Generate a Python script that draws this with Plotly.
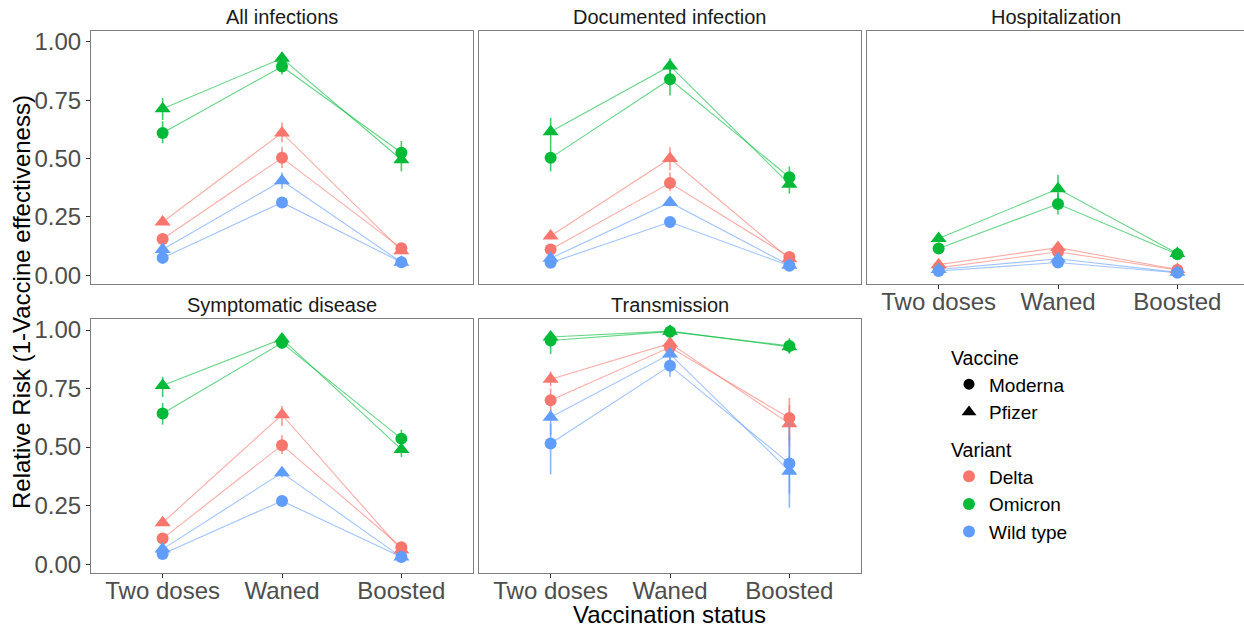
import plotly.graph_objects as go

# ---------------- data ----------------
statuses = ["Two doses", "Waned", "Boosted"]
outcomes = ["All infections", "Documented infection", "Hospitalization",
            "Symptomatic disease", "Transmission"]
variants = ["Delta", "Omicron", "Wild type"]
vaccines = ["Moderna", "Pfizer"]
y_ticks = [0.0, 0.25, 0.5, 0.75, 1.0]
y_tick_labels = ["0.00", "0.25", "0.50", "0.75", "1.00"]

# Relative risk estimates per (variant, vaccine): [Two doses, Waned, Boosted]
est_all = {("Delta", "Moderna"): [0.155, 0.503, 0.115], ("Delta", "Pfizer"): [0.228, 0.610, 0.105],
           ("Omicron", "Moderna"): [0.610, 0.895, 0.525], ("Omicron", "Pfizer"): [0.714, 0.930, 0.495],
           ("Wild type", "Moderna"): [0.074, 0.312, 0.055], ("Wild type", "Pfizer"): [0.110, 0.405, 0.055]}
lo_all = {("Delta", "Moderna"): [0.140, 0.460, 0.100], ("Delta", "Pfizer"): [0.215, 0.570, 0.095],
          ("Omicron", "Moderna"): [0.565, 0.860, 0.480], ("Omicron", "Pfizer"): [0.665, 0.910, 0.445],
          ("Wild type", "Moderna"): [0.065, 0.295, 0.050], ("Wild type", "Pfizer"): [0.095, 0.370, 0.050]}
hi_all = {("Delta", "Moderna"): [0.170, 0.550, 0.130], ("Delta", "Pfizer"): [0.240, 0.655, 0.115],
          ("Omicron", "Moderna"): [0.660, 0.930, 0.575], ("Omicron", "Pfizer"): [0.760, 0.955, 0.540],
          ("Wild type", "Moderna"): [0.085, 0.330, 0.060], ("Wild type", "Pfizer"): [0.125, 0.440, 0.062]}

est_doc = {("Delta", "Moderna"): [0.110, 0.395, 0.078], ("Delta", "Pfizer"): [0.168, 0.500, 0.070],
           ("Omicron", "Moderna"): [0.503, 0.840, 0.420], ("Omicron", "Pfizer"): [0.615, 0.897, 0.390],
           ("Wild type", "Moderna"): [0.053, 0.228, 0.040], ("Wild type", "Pfizer"): [0.072, 0.312, 0.042]}
lo_doc = {("Delta", "Moderna"): [0.100, 0.360, 0.070], ("Delta", "Pfizer"): [0.155, 0.450, 0.062],
          ("Omicron", "Moderna"): [0.445, 0.770, 0.380], ("Omicron", "Pfizer"): [0.560, 0.860, 0.350],
          ("Wild type", "Moderna"): [0.048, 0.215, 0.035], ("Wild type", "Pfizer"): [0.065, 0.295, 0.037]}
hi_doc = {("Delta", "Moderna"): [0.120, 0.440, 0.088], ("Delta", "Pfizer"): [0.180, 0.548, 0.080],
          ("Omicron", "Moderna"): [0.560, 0.890, 0.466], ("Omicron", "Pfizer"): [0.675, 0.930, 0.430],
          ("Wild type", "Moderna"): [0.060, 0.240, 0.045], ("Wild type", "Pfizer"): [0.080, 0.330, 0.047]}

est_hosp = {("Delta", "Moderna"): [0.031, 0.100, 0.022], ("Delta", "Pfizer"): [0.045, 0.118, 0.024],
            ("Omicron", "Moderna"): [0.114, 0.305, 0.090], ("Omicron", "Pfizer"): [0.157, 0.370, 0.093],
            ("Wild type", "Moderna"): [0.018, 0.054, 0.010], ("Wild type", "Pfizer"): [0.024, 0.070, 0.012]}
lo_hosp = {("Delta", "Moderna"): [0.025, 0.085, 0.018], ("Delta", "Pfizer"): [0.038, 0.100, 0.020],
           ("Omicron", "Moderna"): [0.100, 0.260, 0.080], ("Omicron", "Pfizer"): [0.140, 0.320, 0.083],
           ("Wild type", "Moderna"): [0.015, 0.047, 0.008], ("Wild type", "Pfizer"): [0.020, 0.062, 0.010]}
hi_hosp = {("Delta", "Moderna"): [0.037, 0.115, 0.026], ("Delta", "Pfizer"): [0.052, 0.135, 0.030],
           ("Omicron", "Moderna"): [0.130, 0.350, 0.100], ("Omicron", "Pfizer"): [0.175, 0.430, 0.103],
           ("Wild type", "Moderna"): [0.022, 0.062, 0.012], ("Wild type", "Pfizer"): [0.028, 0.078, 0.015]}

est_symp = {("Delta", "Moderna"): [0.109, 0.508, 0.072], ("Delta", "Pfizer"): [0.177, 0.638, 0.060],
            ("Omicron", "Moderna"): [0.643, 0.945, 0.536], ("Omicron", "Pfizer"): [0.763, 0.962, 0.490],
            ("Wild type", "Moderna"): [0.043, 0.270, 0.030], ("Wild type", "Pfizer"): [0.064, 0.390, 0.030]}
lo_symp = {("Delta", "Moderna"): [0.100, 0.470, 0.062], ("Delta", "Pfizer"): [0.165, 0.590, 0.052],
           ("Omicron", "Moderna"): [0.596, 0.930, 0.500], ("Omicron", "Pfizer"): [0.714, 0.950, 0.458],
           ("Wild type", "Moderna"): [0.038, 0.255, 0.026], ("Wild type", "Pfizer"): [0.055, 0.370, 0.026]}
hi_symp = {("Delta", "Moderna"): [0.120, 0.550, 0.082], ("Delta", "Pfizer"): [0.190, 0.675, 0.068],
           ("Omicron", "Moderna"): [0.688, 0.960, 0.574], ("Omicron", "Pfizer"): [0.800, 0.975, 0.525],
           ("Wild type", "Moderna"): [0.050, 0.285, 0.034], ("Wild type", "Pfizer"): [0.072, 0.410, 0.034]}

est_trans = {("Delta", "Moderna"): [0.700, 0.926, 0.624], ("Delta", "Pfizer"): [0.790, 0.943, 0.600],
             ("Omicron", "Moderna"): [0.955, 0.993, 0.932], ("Omicron", "Pfizer"): [0.970, 0.995, 0.928],
             ("Wild type", "Moderna"): [0.515, 0.847, 0.430], ("Wild type", "Pfizer"): [0.627, 0.897, 0.397]}
lo_trans = {("Delta", "Moderna"): [0.650, 0.900, 0.530], ("Delta", "Pfizer"): [0.760, 0.920, 0.500],
            ("Omicron", "Moderna"): [0.898, 0.985, 0.900], ("Omicron", "Pfizer"): [0.940, 0.988, 0.900],
            ("Wild type", "Moderna"): [0.383, 0.800, 0.300], ("Wild type", "Pfizer"): [0.550, 0.870, 0.241]}
hi_trans = {("Delta", "Moderna"): [0.750, 0.950, 0.710], ("Delta", "Pfizer"): [0.823, 0.960, 0.680],
            ("Omicron", "Moderna"): [0.985, 0.998, 0.960], ("Omicron", "Pfizer"): [0.990, 0.998, 0.965],
            ("Wild type", "Moderna"): [0.600, 0.890, 0.550], ("Wild type", "Pfizer"): [0.660, 0.920, 0.603]}

# ---------------- style ----------------
W, H = 1244, 628
FONT = "Liberation Sans, Arial, sans-serif"
variant_colors = {"Delta": (248, 118, 109), "Omicron": (0, 186, 56), "Wild type": (97, 156, 255)}
vaccine_symbols = {"Moderna": "circle", "Pfizer": "triangle-up"}
vaccine_sizes = {"Moderna": 12, "Pfizer": 14}


def rgba(rgb, a):
    return "rgba(%d,%d,%d,%.2f)" % (rgb[0], rgb[1], rgb[2], a)


def px_x(p):
    return p / W


def px_y(p):
    return 1 - p / H


# panel boxes in pixels (left, right, top, bottom)
panel_boxes = [(91, 473, 31, 284), (479, 861, 31, 284), (867, 1244, 31, 284),
               (91, 473, 319, 573), (479, 861, 319, 573)]
panel_data = [(est_all, lo_all, hi_all), (est_doc, lo_doc, hi_doc), (est_hosp, lo_hosp, hi_hosp),
              (est_symp, lo_symp, hi_symp), (est_trans, lo_trans, hi_trans)]
show_x_labels = [False, False, True, True, True]
show_y_labels = [True, False, False, True, False]
unit_px = 382 / 3.2

fig = go.Figure()
layout = dict(
    width=W, height=H, margin=dict(l=0, r=0, t=0, b=0, autoexpand=False),
    paper_bgcolor="white", plot_bgcolor="white",
    font=dict(family=FONT, color="#1A1A1A"),
    showlegend=True,
)
annotations = []

for i, (outcome, box, data) in enumerate(zip(outcomes, panel_boxes, panel_data)):
    est, lo, hi = data
    n = "" if i == 0 else str(i + 1)
    xa, ya = "x" + n, "y" + n
    L, R, T, B = box
    width_units = (R - L) / unit_px
    layout["xaxis" + n] = dict(
        domain=[px_x(L), px_x(R)], anchor=ya, type="category",
        categoryorder="array", categoryarray=statuses,
        range=[-0.6, -0.6 + width_units], automargin=False,
        showline=True, linecolor="#7F7F7F", linewidth=1, mirror=True,
        showgrid=False, zeroline=False,
        ticks="outside" if show_x_labels[i] else "", ticklen=4, tickcolor="#333333",
        showticklabels=show_x_labels[i], ticklabelstandoff=-8,
        tickfont=dict(family=FONT, size=24, color="#4D4D4D"),
    )
    layout["yaxis" + n] = dict(
        domain=[px_y(B), px_y(T)], anchor=xa,
        range=[-0.038, 1.047], automargin=False,
        showline=True, linecolor="#7F7F7F", linewidth=1, mirror=(i != 2),
        showgrid=False, zeroline=False,
        tickvals=y_ticks, ticktext=y_tick_labels,
        ticks="outside" if show_y_labels[i] else "", ticklen=4, tickcolor="#333333",
        showticklabels=show_y_labels[i],
        tickfont=dict(family=FONT, size=24, color="#4D4D4D"),
    )
    annotations.append(dict(
        text=outcome, x=px_x((L + min(R, L + 382)) / 2), y=px_y(T - 14),
        xref="paper", yref="paper", xanchor="center", yanchor="middle",
        showarrow=False, font=dict(family=FONT, size=20, color="#1A1A1A"),
    ))

    # lines first
    for variant in variants:
        for vaccine in vaccines:
            key = (variant, vaccine)
            fig.add_trace(go.Scatter(
                x=statuses, y=est[key], xaxis=xa, yaxis=ya, mode="lines",
                line=dict(color=rgba(variant_colors[variant], 0.6), width=1.1),
                showlegend=False, hoverinfo="skip",
            ))
    # then points with intervals
    for variant in variants:
        for vaccine in vaccines:
            key = (variant, vaccine)
            e, l, h = est[key], lo[key], hi[key]
            fig.add_trace(go.Scatter(
                x=statuses, y=e, xaxis=xa, yaxis=ya, mode="markers",
                marker=dict(symbol=vaccine_symbols[vaccine], size=vaccine_sizes[vaccine],
                            color=rgba(variant_colors[variant], 1.0), line=dict(width=0)),
                error_y=dict(type="data", symmetric=False,
                             array=[hh - ee for hh, ee in zip(h, e)],
                             arrayminus=[ee - ll for ee, ll in zip(e, l)],
                             color=rgba(variant_colors[variant], 0.75), thickness=1.6, width=0),
                name=variant + " " + vaccine, showlegend=False,
            ))

# legends
for vaccine in vaccines:
    fig.add_trace(go.Scatter(
        x=[None], y=[None], mode="markers", name=vaccine, legend="legend",
        marker=dict(symbol=vaccine_symbols[vaccine], size=vaccine_sizes[vaccine] - 1, color="black"),
    ))
for variant in variants:
    fig.add_trace(go.Scatter(
        x=[None], y=[None], mode="markers", name=variant, legend="legend2",
        marker=dict(symbol="circle", size=12, color=rgba(variant_colors[variant], 1.0)),
    ))

legend_common = dict(
    xanchor="left", yanchor="top", bgcolor="rgba(0,0,0,0)",
    font=dict(family=FONT, size=19, color="#000000"),
    itemwidth=30, tracegroupgap=0,
)
layout["legend"] = dict(legend_common, x=px_x(949), y=px_y(340),
                        title=dict(text="Vaccine", font=dict(family=FONT, size=19.5, color="#000000")))
layout["legend2"] = dict(legend_common, x=px_x(949), y=px_y(432),
                         title=dict(text="Variant", font=dict(family=FONT, size=19.5, color="#000000")))

# axis titles
annotations.append(dict(
    text="Vaccination status", x=px_x(670), y=px_y(614), xref="paper", yref="paper",
    xanchor="center", yanchor="middle", showarrow=False,
    font=dict(family=FONT, size=24, color="#000000"),
))
annotations.append(dict(
    text="Relative Risk (1-Vaccine effectiveness)", x=px_x(21), y=px_y(302),
    xref="paper", yref="paper", xanchor="center", yanchor="middle", textangle=-90,
    showarrow=False, font=dict(family=FONT, size=24, color="#000000"),
))
layout["annotations"] = annotations

fig.update_layout(**layout)
fig.write_html("out.html", config={"displayModeBar": False},
               post_script="document.body.style.margin='0';document.body.style.overflow='hidden';")
